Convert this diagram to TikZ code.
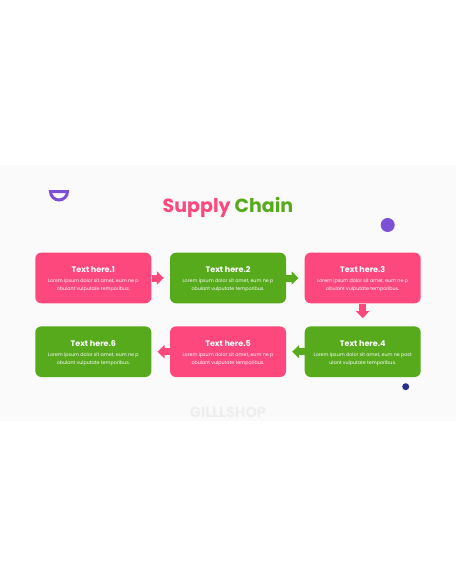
\documentclass[tikz,border=0pt]{standalone}
\usepackage{fontspec}
\setmainfont{Poppins}
\usetikzlibrary{arrows.meta,positioning}

\definecolor{chainpink}{RGB}{252,72,124}
\definecolor{chaingreen}{RGB}{86,170,28}
\definecolor{dotpurple}{RGB}{124,80,212}
\definecolor{dotnavy}{RGB}{44,48,140}
\definecolor{slidebg}{RGB}{250,250,250}
\definecolor{markgray}{RGB}{238,238,238}

\newcommand{\steptext}[3]{%
  {\fontsize{8}{9}\selectfont\bfseries #1\par}\vspace{2pt}%
  {\fontsize{4.8}{8}\selectfont #2\\ #3\par}\vspace{-3pt}}

\begin{document}
\begin{tikzpicture}[x=1pt,y=1pt,node distance=134.7pt]

  \tikzstyle{box}=[rectangle,rounded corners=6pt,minimum width=116pt,
                   minimum height=50.6pt,inner sep=0pt,text=white,
                   text width=116pt,align=flush center]
  \tikzstyle{pink box}=[box,fill=chainpink]
  \tikzstyle{green box}=[box,fill=chaingreen]
  \tikzstyle{flow}=[line width=7pt,-{Triangle[width=13pt,length=7pt]},shorten >=6pt]

  \useasboundingbox (0,0) rectangle (456,-586);
  \fill [slidebg] (0,-165) rectangle (456,-421);

  % title and marks
  \node (title) at (228,-207)
    {\fontsize{19}{19}\selectfont\bfseries
     \textcolor{chainpink}{Supply} \textcolor{chaingreen}{Chain}};
  \node [text=markgray] (mark) at (228,-412.5)
    {\fontsize{14.5}{14.5}\selectfont\bfseries GILLLSHOP};

  \draw [dotpurple,line width=3pt] (50.5,-191.5) arc (180:360:8.5) -- cycle;
  \fill [dotpurple] (387.7,-225) circle (7);
  \fill [dotnavy] (405.7,-386.7) circle (3.5);

  % steps
  \node [pink box] (b1) at (93.3,-278)
    {\steptext{Text here.1}{Lorem ipsum dolor sit amet, eum ne p}{obulant vulputate temporibus.}};
  \node [green box] (b2) [right of=b1]
    {\steptext{Text here.2}{Lorem ipsum dolor sit amet, eum ne p}{obulant vulputate temporibus.}};
  \node [pink box] (b3) [right of=b2]
    {\steptext{Text here.3}{Lorem ipsum dolor sit amet, eum ne p}{obulant vulputate temporibus.}};
  \node [green box] (b4) [below of=b3,node distance=73.7pt]
    {\steptext{Text here.4}{Lorem ipsum dolor sit amet, eum ne post}{ulant vulputate temporibus.}};
  \node [pink box] (b5) [left of=b4]
    {\steptext{Text here.5}{Lorem ipsum dolor sit amet, eum ne p}{obulant vulputate temporibus.}};
  \node [green box] (b6) [left of=b5]
    {\steptext{Text here.6}{Lorem ipsum dolor sit amet, eum ne p}{obulant vulputate temporibus.}};

  % flow arrows
  \draw [flow,chainpink]  (b1) -- (b2);
  \draw [flow,chaingreen] (b2) -- (b3);
  \draw [flow,chainpink,shorten >=8pt] (b3) -- (b4);
  \draw [flow,chaingreen] (b4) -- (b5);
  \draw [flow,chainpink]  (b5) -- (b6);
\end{tikzpicture}
\end{document}
